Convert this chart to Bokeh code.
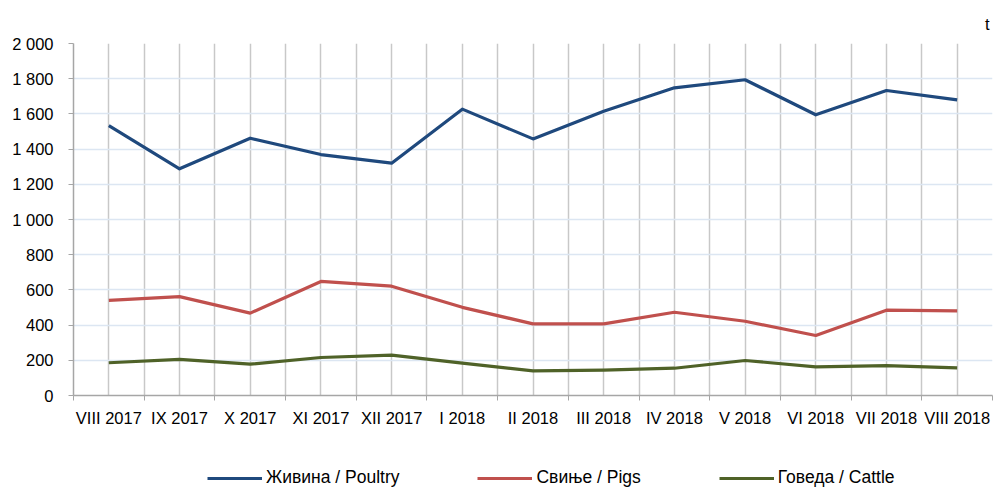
from bokeh.plotting import figure
from bokeh.layouts import column
from bokeh.models import FixedTicker, Legend, LegendItem, Title, Range1d, LinearAxis, ColumnDataSource
from bokeh.embed import file_html
from bokeh.resources import INLINE
import numpy as np

months = ["VIII 2017", "IX 2017", "X 2017", "XI 2017", "XII 2017", "I 2018", "II 2018",
          "III 2018", "IV 2018", "V 2018", "VI 2018", "VII 2018", "VIII 2018"]
poultry = [1534, 1288, 1462, 1369, 1320, 1627, 1458, 1615, 1748, 1794, 1595, 1733, 1680]
pigs = [540, 562, 468, 648, 621, 501, 407, 407, 473, 422, 341, 485, 481]
cattle = [186, 205, 178, 216, 229, 184, 140, 144, 155, 199, 163, 170, 157]
y_ticks = [0, 200, 400, 600, 800, 1000, 1200, 1400, 1600, 1800, 2000]
y_tick_labels = ["0", "200", "400", "600", "800", "1 000", "1 200", "1 400", "1 600", "1 800", "2 000"]
series_names = ["Живина / Poultry", "Свиње / Pigs", "Говеда / Cattle"]
colors = ["#1f497d", "#c0504d", "#4f6228"]

FONT = "Liberation Sans"
FS = "16.5px"
n = len(months)
xs = list(np.arange(n) + 0.5)

p = figure(width=995, height=435, output_backend="svg", toolbar_location=None,
           x_range=Range1d(0, n), y_range=Range1d(0, 2000), x_axis_location=None,
           min_border_left=73, min_border_right=3, min_border_top=43, min_border_bottom=40)
p.outline_line_color = None
p.background_fill_color = "white"

# unit label
p.add_layout(Title(text="t", align="right", text_font=FONT, text_font_size=FS,
                   text_font_style="normal", text_color="#000000", standoff=21, offset=3), "above")

# grids
p.ygrid.ticker = FixedTicker(ticks=y_ticks)
p.ygrid.grid_line_color = "#dce6f2"
p.ygrid.grid_line_width = 1.5
p.xgrid.ticker = FixedTicker(ticks=list(np.arange(0, 2 * n + 1) / 2.0))
p.xgrid.grid_line_color = "#c8c8c8"
p.xgrid.grid_line_width = 1.5

# y axis
p.yaxis.ticker = FixedTicker(ticks=y_ticks)
p.yaxis.major_label_overrides = {t: l for t, l in zip(y_ticks, y_tick_labels)}
p.yaxis.axis_line_color = "#a6a6a6"
p.yaxis.axis_line_width = 1.5
p.yaxis.major_tick_line_color = "#a6a6a6"
p.yaxis.major_tick_in = 0
p.yaxis.major_tick_out = 5
p.yaxis.minor_tick_line_color = None
p.yaxis.major_label_text_font = FONT
p.yaxis.major_label_text_font_size = FS
p.yaxis.major_label_text_color = "#000000"
p.yaxis.major_label_standoff = 15

# x axis line with tick marks at category boundaries
bax = LinearAxis(ticker=FixedTicker(ticks=list(range(0, n + 1))), axis_line_color="#a6a6a6",
                 axis_line_width=1.5,
                 major_tick_line_color="#a6a6a6", major_tick_in=0, major_tick_out=5,
                 minor_tick_line_color=None, major_label_text_alpha=0,
                 major_label_text_font_size="1px", major_label_standoff=0)
p.add_layout(bax, "below")

# labels at category centers
lax = LinearAxis(ticker=FixedTicker(ticks=xs), axis_line_color=None,
                 major_tick_line_color=None, minor_tick_line_color=None,
                 major_label_overrides={float(x): m for x, m in zip(xs, months)},
                 major_label_text_font=FONT, major_label_text_font_size=FS,
                 major_label_text_color="#000000", major_label_standoff=2)
p.add_layout(lax, "below")

for vals, c in zip([poultry, pigs, cattle], colors):
    src = ColumnDataSource(dict(x=xs, y=vals))
    p.line("x", "y", source=src, line_color=c, line_width=3.2, line_join="round")

# legend panel (proxy lines lie outside its visible range; only legend glyphs show)
p2 = figure(width=995, height=53, output_backend="svg", toolbar_location=None,
            x_range=Range1d(0, 1), y_range=Range1d(0, 1),
            min_border=0, min_border_left=73, min_border_right=3, min_border_top=0, min_border_bottom=0)
p2.axis.visible = False
p2.grid.visible = False
p2.outline_line_color = None
leg_renderers = [p2.line(x=[0, 1], y=[-5, -5], line_color=c, line_width=3.2) for c in colors]
legend = Legend(items=[LegendItem(label=nm, renderers=[r]) for nm, r in zip(series_names, leg_renderers)],
                orientation="horizontal", location=(134, 0), padding=0, margin=0,
                spacing=78, glyph_width=55, glyph_height=20, label_standoff=4, label_height=20,
                label_text_font=FONT, label_text_font_size="17.5px", label_text_color="#000000",
                border_line_color=None, background_fill_alpha=0)
p2.add_layout(legend, "center")

open("out.html", "w").write(file_html(column(p, p2, spacing=0), INLINE))
